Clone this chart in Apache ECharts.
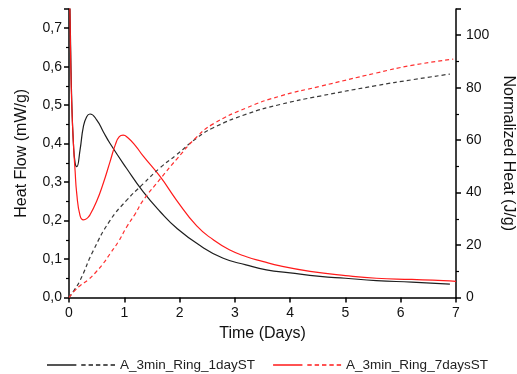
<!DOCTYPE html>
<html>
<head>
<meta charset="utf-8">
<script src="https://cdn.jsdelivr.net/npm/echarts@6/dist/echarts.min.js"></script>
<style>
  html, body { margin: 0; padding: 0; background: #fff; }
  #chart { width: 517px; height: 374px; }
</style>
</head>
<body>
<div id="chart"></div>
<script>
// heat flow curves (left axis, mW/g)
const flowTime1 = [0, 0.03, 0.05, 0.08, 0.11, 0.14, 0.2, 0.26, 0.32, 0.38, 0.5, 0.62, 0.74, 1.04, 1.34, 1.65, 1.95, 2.37, 2.79, 3.2, 3.57, 4.0, 4.54, 5.0, 5.56, 6.2, 6.89];
const flow1 = [0.9, 0.65, 0.51, 0.40, 0.35, 0.34, 0.384, 0.444, 0.47, 0.477, 0.462, 0.431, 0.401, 0.336, 0.275, 0.223, 0.18, 0.135, 0.102, 0.085, 0.072, 0.064, 0.055, 0.05, 0.044, 0.04, 0.035];

const flowTime2 = [0, 0.03, 0.05, 0.08, 0.11, 0.14, 0.2, 0.26, 0.32, 0.38, 0.5, 0.62, 0.74, 0.84, 0.91, 0.98, 1.06, 1.2, 1.34, 1.65, 1.95, 2.31, 2.61, 2.9, 3.21, 3.5, 3.82, 4.36, 5.0, 5.56, 6.2, 6.77, 7.0];
const flow2 = [0.9, 0.62, 0.5, 0.4, 0.33, 0.27, 0.213, 0.202, 0.205, 0.215, 0.25, 0.297, 0.352, 0.398, 0.418, 0.422, 0.416, 0.395, 0.368, 0.314, 0.252, 0.186, 0.15, 0.124, 0.106, 0.094, 0.082, 0.068, 0.057, 0.05, 0.047, 0.044, 0.042];

// normalized heat curves (right axis, J/g)
const heatTime1 = [0, 0.1, 0.2, 0.44, 0.74, 1.04, 1.34, 1.65, 1.95, 2.31, 2.61, 3.21, 3.82, 4.54, 5.56, 6.2, 6.89];
const heat1 = [0, 3, 6.5, 17.9, 29.3, 37, 43.3, 49.5, 54.5, 60.8, 64.7, 69.9, 73.6, 76.8, 80.8, 83, 85.2];

const heatTime2 = [0, 0.1, 0.2, 0.35, 0.5, 0.62, 0.74, 0.9, 1.04, 1.2, 1.34, 1.65, 1.95, 2.31, 2.61, 3.21, 3.82, 4.54, 5.56, 6.2, 6.95];
const heat2 = [0, 2.5, 4.5, 6.8, 10, 13, 16.6, 21.5, 26.8, 32, 37, 45.2, 52.8, 61.2, 66.2, 72.3, 76.8, 80.5, 85.6, 88.5, 90.9];

const name1 = 'A_3min_Ring_1dayST';
const name2 = 'A_3min_Ring_7daysST';

const pairs = (xs, ys) => xs.map((x, i) => [x, ys[i]]);

const font = 'Liberation Sans, Arial, sans-serif';
const legendIcon = 'path://M0,0h30v1.5h-30z M35,0h4.5v1.5h-4.5z M42.5,0h4.5v1.5h-4.5z M50,0h4.5v1.5h-4.5z M57.5,0h4.5v1.5h-4.5z M65,0h4.5v1.5h-4.5z';

const chart = echarts.init(document.getElementById('chart'));

const axisLine = { show: true, lineStyle: { color: '#000', width: 1.5 } };

chart.setOption({
  animation: false,
  textStyle: { fontFamily: font },
  grid: { left: 69, right: 61, top: 9, bottom: 76.5, outerBoundsMode: 'none', containLabel: false },
  legend: {
    left: 42,
    top: 353,
    itemGap: 18,
    itemWidth: 68,
    itemHeight: 1.5,
    icon: legendIcon,
    itemStyle: { borderWidth: 0 },
    textStyle: { fontSize: 13.5, color: '#222', fontFamily: font },
    data: [name1, name2]
  },
  xAxis: {
    type: 'value',
    min: 0, max: 7, interval: 1,
    name: 'Time (Days)',
    nameLocation: 'middle',
    nameGap: 26,
    nameTextStyle: { fontSize: 16, color: '#111' },
    axisLine: axisLine,
    axisTick: { show: true, inside: false, length: 5, lineStyle: { color: '#000', width: 1.5 } },
    axisLabel: { fontSize: 14, color: '#111', margin: 9 },
    splitLine: { show: false }
  },
  yAxis: [
    {
      type: 'value',
      position: 'left',
      min: 0, max: 0.75, interval: 0.1,
      name: 'Heat Flow (mW/g)',
      nameLocation: 'middle',
      nameGap: 39,
      nameTextStyle: { fontSize: 16, color: '#111' },
      axisLine: axisLine,
      axisTick: { show: true, length: 5, lineStyle: { color: '#000', width: 1.5 } },
      minorTick: { show: true, splitNumber: 2, length: 3, lineStyle: { color: '#000', width: 1.2 } },
      axisLabel: {
        fontSize: 14, color: '#111', margin: 7, showMaxLabel: false,
        formatter: v => v.toFixed(1).replace('.', ',')
      },
      splitLine: { show: false }
    },
    {
      type: 'value',
      position: 'right',
      min: 0, max: 110, interval: 20,
      name: 'Normalized Heat (J/g)',
      nameLocation: 'middle',
      nameGap: 34,
      nameRotate: -90,
      nameTextStyle: { fontSize: 16, color: '#111' },
      axisLine: axisLine,
      axisTick: { show: true, length: 5, lineStyle: { color: '#000', width: 1.5 } },
      minorTick: { show: true, splitNumber: 2, length: 3, lineStyle: { color: '#000', width: 1.2 } },
      axisLabel: { fontSize: 14, color: '#111', margin: 10, showMaxLabel: false },
      splitLine: { show: false }
    }
  ],
  series: [
    {
      name: name1, type: 'line', yAxisIndex: 0, smooth: 0.5, showSymbol: false,
      color: '#1e1e1e',
      lineStyle: { width: 1.2, color: '#1e1e1e' },
      data: pairs(flowTime1, flow1)
    },
    {
      name: name2, type: 'line', yAxisIndex: 0, smooth: 0.5, showSymbol: false,
      color: '#ff1a1a',
      lineStyle: { width: 1.2, color: '#ff1a1a' },
      data: pairs(flowTime2, flow2)
    },
    {
      name: name1, type: 'line', yAxisIndex: 1, smooth: 0.5, showSymbol: false,
      color: '#1e1e1e',
      lineStyle: { width: 1.2, color: '#3a3a3a', type: [4, 3] },
      data: pairs(heatTime1, heat1)
    },
    {
      name: name2, type: 'line', yAxisIndex: 1, smooth: 0.5, showSymbol: false,
      color: '#ff1a1a',
      lineStyle: { width: 1.2, color: '#ff3030', type: [4, 3] },
      data: pairs(heatTime2, heat2)
    }
  ]
});
</script>
</body>
</html>
